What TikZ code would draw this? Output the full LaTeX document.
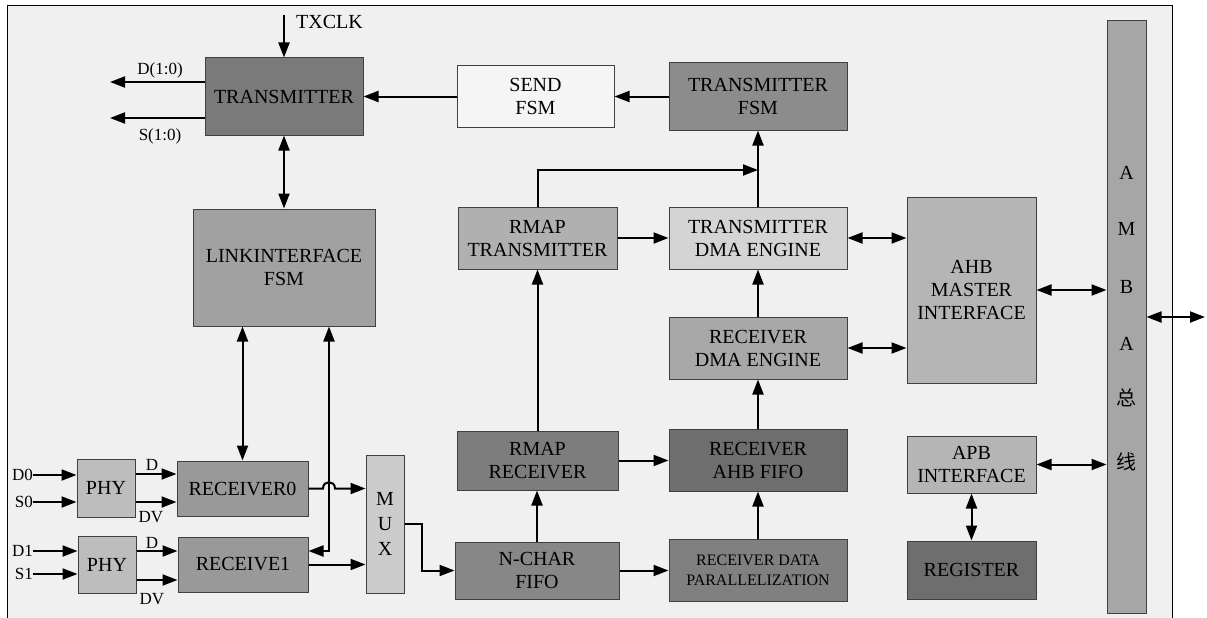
\documentclass[tikz,border=0pt]{standalone}
\usepackage{fontspec}
\setmainfont{Liberation Serif}
\newfontfamily\cjk{Noto Sans CJK SC}
\usepackage{tikz}
\usetikzlibrary{arrows.meta}
\tikzset{blk/.style={draw=black!75,line width=1pt,align=center,inner sep=0pt,font=\fontsize{20}{23}\selectfont}}
\tikzset{arr/.style={line width=2pt,-{Triangle[length=15pt,width=11pt]}}}
\tikzset{biarr/.style={line width=2pt,{Triangle[length=15pt,width=11pt]}-{Triangle[length=15pt,width=11pt]}}}
\tikzset{lbl/.style={inner sep=0pt,font=\fontsize{17}{20}\selectfont}}

\begin{document}
\begin{tikzpicture}[x=1pt,y=-1pt]
        \useasboundingbox (0,0) rectangle (1207,618);
        %Frame
        \fill[black!6] (7,6) rectangle (1172,618);
        \draw[line width=1pt] (7,618) |- (1172,6) -- (1172,618);
        %Transmit side
        \node[blk,fill=black!52,minimum width=158pt,minimum height=77pt] (tx) at (284,96.5) {TRANSMITTER};
        \node[blk,fill=black!4,minimum width=157pt,minimum height=61pt] (send) at (535.5,96.5) {SEND\\FSM};
        \node[blk,fill=black!45,minimum width=178pt,minimum height=67pt] (txfsm) at (758,96.5) {TRANSMITTER\\FSM};
        \node[blk,fill=black!37,minimum width=182pt,minimum height=117pt] (link) at (284,267.5) {LINKINTERFACE\\FSM};
        \node[blk,fill=black!31,minimum width=159pt,minimum height=62pt] (rmaptx) at (537.5,238) {RMAP\\TRANSMITTER};
        \node[blk,fill=black!17,minimum width=178pt,minimum height=62pt] (txdma) at (758,238) {TRANSMITTER\\DMA ENGINE};
        \node[blk,fill=black!34,minimum width=178pt,minimum height=62pt] (rxdma) at (758,348) {RECEIVER\\DMA ENGINE};
        \node[blk,fill=black!29,minimum width=129pt,minimum height=186pt] (ahb) at (971.5,290) {AHB\\MASTER\\INTERFACE};
        %Receive side
        \node[blk,fill=black!51,minimum width=161pt,minimum height=59pt] (rmaprx) at (537.5,460.5) {RMAP\\RECEIVER};
        \node[blk,fill=black!57,minimum width=178pt,minimum height=62pt] (rxfifo) at (758,460) {RECEIVER\\AHB FIFO};
        \node[blk,fill=black!29,minimum width=129pt,minimum height=57pt] (apb) at (971.5,464.5) {APB\\INTERFACE};
        \node[blk,fill=black!47,minimum width=164pt,minimum height=57pt] (nchar) at (537,570.5) {N-CHAR\\FIFO};
        \node[blk,fill=black!50,minimum width=178pt,minimum height=62pt,font=\fontsize{16}{20}\selectfont] (rdp) at (758,570) {RECEIVER DATA\\PARALLELIZATION};
        \node[blk,fill=black!57,minimum width=129pt,minimum height=58pt] (reg) at (971.5,570) {REGISTER};
        \node[blk,fill=black!26,minimum width=58pt,minimum height=58pt] (phy0) at (106,488) {PHY};
        \node[blk,fill=black!26,minimum width=58pt,minimum height=57pt] (phy1) at (107,564.5) {PHY};
        \node[blk,fill=black!40,minimum width=131pt,minimum height=55pt] (rcv0) at (242.5,488.5) {RECEIVER0};
        \node[blk,fill=black!40,minimum width=130pt,minimum height=55pt] (rcv1) at (243,564.5) {RECEIVE1};
        \node[blk,fill=black!20,minimum width=38pt,minimum height=138pt,font=\fontsize{20}{25}\selectfont] (mux) at (385,524) {M\\U\\X};
        %AMBA bus
        \node[blk,fill=black!35,minimum width=39pt,minimum height=592pt] (amba) at (1126.5,317) {};
        \foreach \ch/\yy [count=\i] in {A/173,M/229,B/287,A/344,{\cjk 总}/398,{\cjk 线}/462}
            \node[inner sep=0pt,font=\fontsize{20}{23}\selectfont] (amba\i) at (1126.5,\yy) {\ch};

        %Outside signals
        \coordinate (clk) at (284,15);
        \coordinate (dout) at (110,82);
        \coordinate (sout) at (110,118);
        \coordinate (ext) at (1205,317);
        \node[lbl,anchor=west,font=\fontsize{20}{23}\selectfont] (clklbl) at (296,22) {TXCLK};
        \node[lbl] (doutlbl) at (160,70) {D(1:0)};
        \node[lbl] (soutlbl) at (160,136) {S(1:0)};
        \draw[arr] (clk) -- (tx.north);
        \draw[arr] (tx.west |- dout) -- (dout);
        \draw[arr] (tx.west |- sout) -- (sout);
        \node[lbl,anchor=east] (d0) at (33,475) {D0};
        \node[lbl,anchor=east] (s0) at (33,502) {S0};
        \node[lbl,anchor=east] (d1) at (33,551) {D1};
        \node[lbl,anchor=east] (s1) at (33,574) {S1};
        \draw[arr] (d0.east) -- (d0.east -| phy0.west);
        \draw[arr] (s0.east) -- (s0.east -| phy0.west);
        \draw[arr] (d1.east) -- (d1.east -| phy1.west);
        \draw[arr] (s1.east) -- (s1.east -| phy1.west);

        %PHY to receivers
        \draw[arr] ([yshift=14pt]phy0.east) -- ([yshift=14pt]phy0.east -| rcv0.west);
        \draw[arr] ([yshift=-14pt]phy0.east) -- ([yshift=-14pt]phy0.east -| rcv0.west);
        \draw[arr] ([yshift=13.5pt]phy1.east) -- ([yshift=13.5pt]phy1.east -| rcv1.west);
        \draw[arr] ([yshift=-15.5pt]phy1.east) -- ([yshift=-15.5pt]phy1.east -| rcv1.west);
        \path (152,465)node[lbl](dlbl0){D} (151,517)node[lbl](dvlbl0){DV} (152,543)node[lbl](dlbl1){D} (152,599)node[lbl](dvlbl1){DV};

        %Receivers, MUX
        \draw[biarr] (rcv0.north) -- (rcv0.north |- link.south);
        \draw[biarr] ([yshift=13.5pt]rcv1.east) -| ([xshift=45pt]link.south);
        \draw[arr] (rcv0.east) -- (323,488.5) .. controls (323,480) and (335,480) .. (335,488.5) -- (rcv0.east -| mux.west);
        \draw[arr] (rcv1.east) -- (rcv1.east -| mux.west);
        \draw[arr] (mux.east) -- (422,524) |- (nchar.west);

        %Data path
        \draw[biarr] (tx.south) -- (link.north);
        \draw[arr] (send.west) -- (tx.east);
        \draw[arr] (txfsm.west) -- (send.east);
        \draw[arr] (nchar.north) -- (nchar.north |- rmaprx.south);
        \draw[arr] (nchar.east) -- (nchar.east -| rdp.west);
        \draw[arr] (rmaprx.east) -- (rmaprx.east -| rxfifo.west);
        \draw[arr] (rdp.north) -- (rxfifo.south);
        \draw[arr] (rmaprx.north) -- (rmaprx.north |- rmaptx.south);
        \draw[arr] (rxfifo.north) -- (rxdma.south);
        \draw[arr] (rxdma.north) -- (txdma.south);
        \draw[arr] (rmaptx.east) -- (txdma.west);
        \draw[arr] (txdma.north) -- (txfsm.south);
        \coordinate (join) at (758,170);
        \draw[arr] (rmaptx.north) |- (join);

        %Bus side
        \draw[biarr] (txdma.east) -- (txdma.east -| ahb.west);
        \draw[biarr] (rxdma.east) -- (rxdma.east -| ahb.west);
        \draw[biarr] (ahb.east) -- (ahb.east -| amba.west);
        \draw[biarr] (apb.east) -- (apb.east -| amba.west);
        \draw[biarr] (apb.south) -- (reg.north);
        \draw[biarr] (amba.east) -- (ext);
\end{tikzpicture}
\end{document}
